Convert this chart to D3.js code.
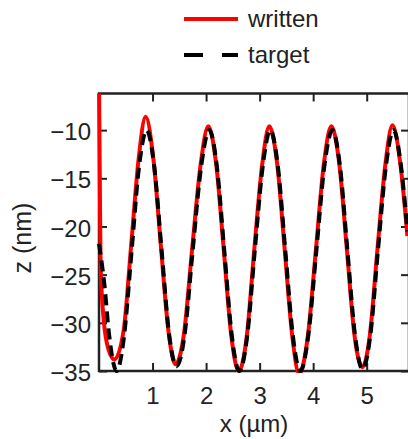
<!DOCTYPE html>
<html>
<head>
<meta charset="utf-8">
<script src="https://cdn.jsdelivr.net/npm/d3@7.9.0/dist/d3.min.js"></script>
<style>
  body { margin: 0; background: #fff; }
  svg { display: block; font-family: "Liberation Sans", Arial, sans-serif; }
  .axis text { fill: #222; font-size: 24px; }
  .axis line { stroke: #222; stroke-width: 2; }
</style>
</head>
<body>
<div id="chart"></div>
<script>
// values: [x (um), z (nm)]
const written = [
  [0, -5], [0.015, -15], [0.03, -24], [0.09, -29.8], [0.18, -32.8], [0.29, -33.8],
  [0.46, -30.8], [0.6, -22], [0.74, -13], [0.87, -8.6],
  [1.02, -13.2], [1.16, -22.3], [1.3, -31], [1.43, -34.3],
  [1.59, -31], [1.74, -22.3], [1.9, -13.5], [2.04, -9.6],
  [2.19, -13.6], [2.33, -22.4], [2.47, -31.3], [2.61, -35],
  [2.76, -31.4], [2.9, -22.4], [3.05, -13.5], [3.18, -9.6],
  [3.33, -13.6], [3.47, -22.5], [3.61, -31.4], [3.74, -35.3],
  [3.9, -31.4], [4.05, -22.5], [4.2, -13.5], [4.34, -9.6],
  [4.49, -13.6], [4.63, -22.4], [4.77, -31.2], [4.92, -34.6],
  [5.06, -31.2], [5.2, -22.4], [5.35, -13.5], [5.48, -9.5],
  [5.63, -13.6], [5.76, -21]
];
const target = [
  [0, -21.8], [0.1, -26], [0.19, -31.3], [0.33, -35],
  [0.47, -31.3], [0.61, -22.5], [0.75, -13.7], [0.89, -10],
  [1.03, -13.7], [1.17, -22.5], [1.31, -31.2], [1.45, -34.5],
  [1.6, -31.2], [1.75, -22.5], [1.91, -13.7], [2.06, -10],
  [2.2, -13.7], [2.34, -22.5], [2.48, -31.3], [2.62, -35],
  [2.77, -31.3], [2.91, -22.5], [3.06, -13.7], [3.2, -10],
  [3.34, -13.7], [3.48, -22.5], [3.62, -31.3], [3.76, -35],
  [3.91, -31.3], [4.06, -22.5], [4.21, -13.7], [4.36, -10],
  [4.5, -13.7], [4.64, -22.5], [4.78, -31.2], [4.92, -34.8],
  [5.07, -31.2], [5.21, -22.5], [5.36, -13.7], [5.5, -10],
  [5.64, -13.7], [5.76, -20.5]
];
const xTicks = [1, 2, 3, 4, 5];
const yTicks = [-35, -30, -25, -20, -15, -10];
const seriesNames = ['written', 'target'];

const width = 408, height = 439;
const box = { left: 99, right: 409, top: 93.5, bottom: 371 };

const svg = d3.select('#chart').append('svg')
  .attr('width', width).attr('height', height);

const x = d3.scaleLinear().domain([0, 5.79]).range([box.left, box.right]);
const y = d3.scaleLinear().domain([-35, -6.2]).range([box.bottom, box.top]);

svg.append('defs').append('clipPath').attr('id', 'clip')
  .append('rect')
  .attr('x', box.left - 2).attr('y', box.top)
  .attr('width', box.right - box.left + 4).attr('height', box.bottom - box.top + 2);

// axes with inward ticks on all sides
svg.append('g').attr('class', 'axis')
  .attr('transform', `translate(0,${box.bottom})`)
  .call(d3.axisBottom(x).tickValues(xTicks).tickSize(-8).tickPadding(16)
    .tickFormat(d3.format('d')))
  .call(g => g.select('.domain').remove());
svg.append('g').attr('class', 'axis')
  .attr('transform', `translate(0,${box.top})`)
  .call(d3.axisTop(x).tickValues(xTicks).tickSize(-8).tickFormat(''))
  .call(g => g.select('.domain').remove());
svg.append('g').attr('class', 'axis')
  .attr('transform', `translate(${box.left},0)`)
  .call(d3.axisLeft(y).tickValues(yTicks).tickSize(-8).tickPadding(8)
    .tickFormat(d => '\u2212' + Math.abs(d)))
  .call(g => g.select('.domain').remove())
  .call(g => g.selectAll('text').attr('dy', '0.4em'));
svg.append('g').attr('class', 'axis')
  .attr('transform', `translate(${box.right},0)`)
  .call(d3.axisRight(y).tickValues(yTicks).tickSize(-8).tickFormat(''))
  .call(g => g.select('.domain').remove());

svg.append('rect')
  .attr('x', box.left).attr('y', box.top)
  .attr('width', box.right - box.left).attr('height', box.bottom - box.top)
  .attr('fill', 'none').attr('stroke', '#222').attr('stroke-width', 2.5);

const line = d3.line()
  .x(d => x(d[0])).y(d => y(d[1]))
  .curve(d3.curveMonotoneX);

const plot = svg.append('g').attr('clip-path', 'url(#clip)');
plot.append('path').datum(written)
  .attr('d', line).attr('fill', 'none')
  .attr('stroke', '#f00').attr('stroke-width', 4);
plot.append('path').datum(target)
  .attr('d', line).attr('fill', 'none')
  .attr('stroke', '#000').attr('stroke-width', 4)
  .attr('stroke-dasharray', '11,6');

// axis titles
svg.append('text')
  .attr('x', (box.left + box.right) / 2).attr('y', 432)
  .attr('text-anchor', 'middle').attr('fill', '#222')
  .attr('font-size', 24).text('x (\u00b5m)');
svg.append('text')
  .attr('transform', 'translate(31,238) rotate(-90)')
  .attr('text-anchor', 'middle').attr('fill', '#222')
  .attr('font-size', 25).text('z (nm)');

// legend
const legend = svg.append('g');
seriesNames.forEach((name, i) => {
  const ly = 19 + i * 36;
  legend.append('line')
    .attr('x1', 184).attr('x2', 238).attr('y1', ly).attr('y2', ly)
    .attr('stroke', i === 0 ? '#f00' : '#000').attr('stroke-width', 4)
    .attr('stroke-dasharray', i === 0 ? null : '19,19');
  legend.append('text')
    .attr('x', 248).attr('y', ly + 8)
    .attr('fill', '#222').attr('font-size', 24).text(name);
});
</script>
</body>
</html>
